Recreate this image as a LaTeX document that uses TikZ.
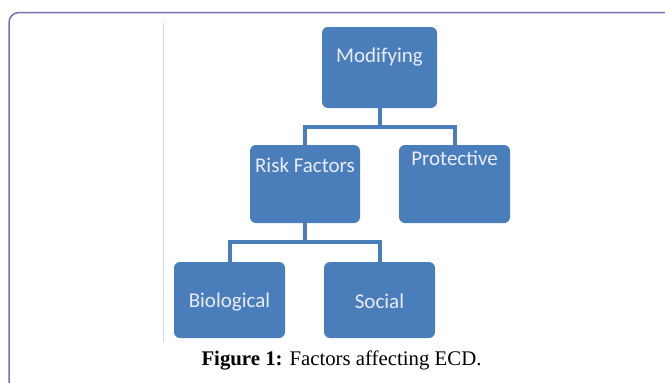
\documentclass[tikz,border=0pt]{standalone}
\usepackage{fontspec}
\setmainfont{Liberation Serif}
\newfontfamily\boxfont{Carlito}
\definecolor{boxblue}{RGB}{74,126,187}
\definecolor{framecol}{RGB}{120,110,180}
\begin{document}
\begin{tikzpicture}[x=1pt,y=-1pt,
  box/.style={draw=none,fill=boxblue,rounded corners=6pt,inner sep=0pt},
  boxtext/.style={text=white!92!blue,font=\boxfont\fontsize{21}{25}\selectfont},
  conn/.style={draw=boxblue,line width=4pt,line join=miter}]
\useasboundingbox (0,0) rectangle (665,383);
\clip (0,0) rectangle (665,383);
\draw[framecol,line width=1.5pt,rounded corners=10pt] (9,12.5) rectangle (700,420);
\draw[black!15,line width=0.8pt] (163,23) -- (163,342);
\node[box,minimum width=115pt,minimum height=81pt,label={[boxtext,yshift=10pt]center:Modifying}] (mod) at (379.5,67.5) {};
\node[box,minimum width=110pt,minimum height=78pt,label={[boxtext,yshift=19pt]center:Risk Factors}] (risk) at (305,184) {};
\node[box,minimum width=111pt,minimum height=78pt,label={[boxtext,yshift=25.5pt]center:Protective}] (prot) at (454.5,184) {};
\node[box,minimum width=111pt,minimum height=76pt,label={[boxtext,yshift=-2.5pt]center:Biological}] (bio) at (229.5,300) {};
\node[box,minimum width=111pt,minimum height=76pt,label={[boxtext,yshift=-1pt]center:Social}] (soc) at (379.5,300) {};
\coordinate (j1) at (379.5,127);
\coordinate (j2) at (305,242);
\draw[conn] (mod.south) -- (j1);
\draw[conn] (j1) -| (risk.north);
\draw[conn] (j1) -| (prot.north);
\draw[conn] (risk.south) -- (j2);
\draw[conn] (j2) -| (bio.north);
\draw[conn] (j2) -| (soc.north);
\node[anchor=base,font=\fontsize{20.8}{24}\selectfont] (cap) at (341.5,365.5) {\textbf{Figure 1:} Factors affecting ECD.};
\end{tikzpicture}
\end{document}
